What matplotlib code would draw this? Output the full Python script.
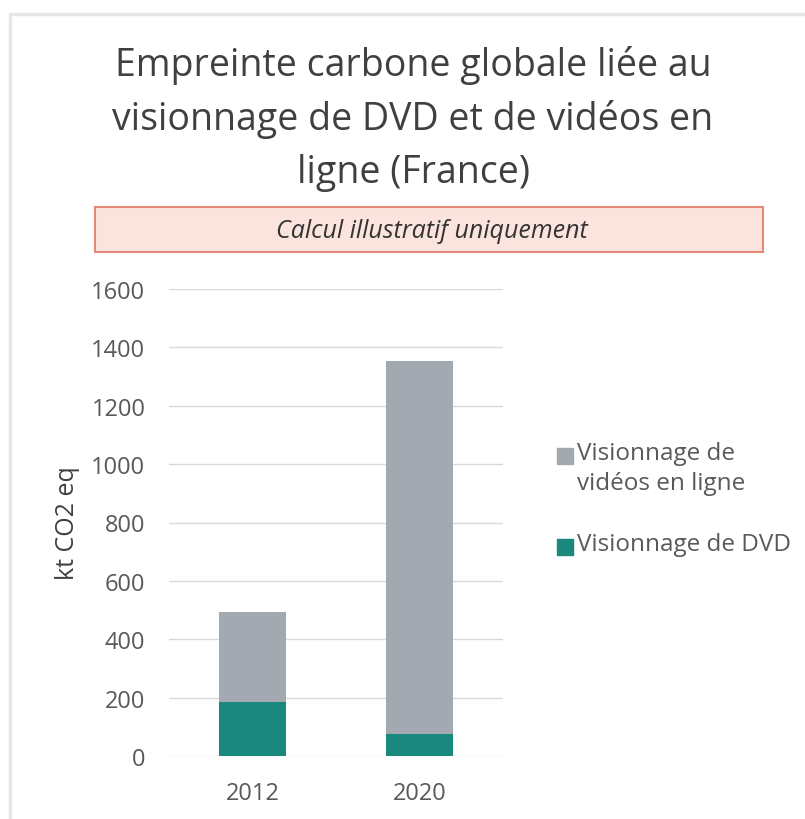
import matplotlib.pyplot as plt
from matplotlib.patches import Rectangle

plt.rcParams['font.family'] = ['Open Sans', 'DejaVu Sans']

years = ['2012', '2020']
dvd = [186, 74]
online = [306, 1280]
yticks = [0, 200, 400, 600, 800, 1000, 1200, 1400, 1600]
labels = ['Visionnage de\nvidéos en ligne', 'Visionnage de DVD']

c_dvd = '#1b887d'
c_online = '#a2a9b1'
c_text = '#595959'

W, H = 805, 820
fig = plt.figure(figsize=(W / 100, H / 100), dpi=100)

# outer frame of the chart
fig.patches.append(Rectangle((10 / W, -0.1), 1.1, 1 - 15 / H + 0.1, transform=fig.transFigure,
                             fill=False, edgecolor='#e6e6e6', lw=2.5))

fig.text(413 / W, 1 - 119 / H, 'Empreinte carbone globale liée au\nvisionnage de DVD et de vidéos en\nligne (France)',
         ha='center', va='center', fontsize=27, color='#404040', linespacing=1.5)

# pink warning box
fig.patches.append(Rectangle((95 / W, 1 - 253 / H), 668 / W, 45 / H, transform=fig.transFigure,
                             facecolor='#fbe4dd', edgecolor='#e58a78', lw=1.5))
fig.text(432 / W, 1 - 231 / H, 'Calcul illustratif uniquement', ha='center', va='center',
         fontsize=18, style='italic', color='#333333')

ax = fig.add_axes([169 / W, 1 - 757 / H, 334 / W, 467 / H])
x = range(len(years))
ax.bar(x, dvd, width=0.4, color=c_dvd, zorder=3)
ax.bar(x, online, width=0.4, bottom=dvd, color=c_online, zorder=3)

ax.set_xlim(-0.5, 1.5)
ax.set_ylim(0, 1600)
ax.set_yticks(yticks)
ax.set_xticks(list(x))
ax.set_xticklabels(years)
ax.grid(axis='y', color='#d9d9d9', lw=1)
for s in ax.spines.values():
    s.set_visible(False)
ax.tick_params(length=0, labelsize=17, labelcolor=c_text)
ax.tick_params(axis='y', pad=17)
ax.tick_params(axis='x', pad=18)
ax.set_ylabel('kt CO2 eq', fontsize=18, color='#404040', va='center')
ax.yaxis.set_label_coords(-0.305, 0.5)

# legend, drawn by hand so the square sits on the first text line
leg_colors = [c_online, c_dvd]
leg_rows = [457, 548]
for lab, col, yc in zip(labels, leg_colors, leg_rows):
    fig.patches.append(Rectangle((557 / W, 1 - (yc + 8) / H), 16 / W, 16 / H,
                                 transform=fig.transFigure, color=col))
    fig.text(577 / W, 1 - (yc - 15) / H, lab, ha='left', va='top', fontsize=17.5,
             color=c_text, linespacing=1.35)

fig.savefig('out.png', dpi=100, facecolor='white')
